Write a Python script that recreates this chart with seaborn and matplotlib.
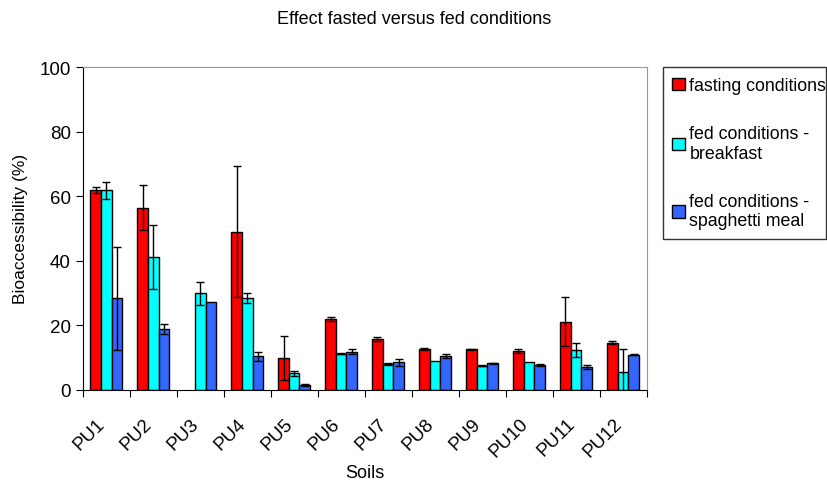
import numpy as np
import pandas as pd
import matplotlib
matplotlib.use('Agg')
import matplotlib.pyplot as plt
import matplotlib.transforms as mtransforms
import seaborn as sns
from matplotlib.patches import Patch

# ─────────────────────────────────────────────
# data
# ─────────────────────────────────────────────
soils = ['PU1', 'PU2', 'PU3', 'PU4', 'PU5', 'PU6',
         'PU7', 'PU8', 'PU9', 'PU10', 'PU11', 'PU12']
conditions = ['fasting conditions',
              'fed conditions -\nbreakfast',
              'fed conditions -\nspaghetti meal']

fasting     = [62.0, 56.4, np.nan, 49.0, 9.9, 21.9, 15.6, 12.5, 12.5, 12.0, 21.1, 14.6]
fasting_err = [1.0, 7.0, np.nan, 20.3, 6.8, 0.5, 0.6, 0.3, 0.2, 0.6, 7.5, 0.4]
breakfast     = [61.8, 41.1, 29.9, 28.5, 5.0, 11.1, 8.0, 8.8, 7.4, 8.6, 12.2, 5.3]
breakfast_err = [2.6, 10.0, 3.6, 1.6, 0.9, 0.2, 0.3, 0.0, 0.2, 0.0, 2.2, 7.4]
spaghetti     = [28.3, 18.8, 27.1, 10.3, 1.3, 11.7, 8.5, 10.5, 8.2, 7.7, 7.1, 10.8]
spaghetti_err = [15.9, 1.5, 0.0, 1.4, 0.3, 0.8, 1.1, 0.6, 0.2, 0.3, 0.6, 0.2]

colors = ['#FF0000', '#00FFFF', '#3366FF']

rows = []
for cond, vals, errs in zip(conditions,
                            [fasting, breakfast, spaghetti],
                            [fasting_err, breakfast_err, spaghetti_err]):
    for s, v, e in zip(soils, vals, errs):
        rows.append({'soil': s, 'condition': cond, 'value': v, 'err': e})
df = pd.DataFrame(rows)

plt.rcParams['font.family'] = ['Liberation Sans', 'DejaVu Sans']

fig = plt.figure(figsize=(8.28, 4.81), dpi=100)
ax = fig.add_axes([0.0999, 0.188, 0.681, 0.670])

sns.barplot(data=df, x='soil', y='value', hue='condition',
            order=soils, hue_order=conditions, palette=colors, saturation=1,
            width=0.68, gap=0, edgecolor='black', linewidth=1,
            errorbar=None, legend=False, ax=ax)

# error bars at each bar centre
for container, cond in zip(ax.containers, conditions):
    sub = df[df['condition'] == cond].set_index('soil')
    for bar in container:
        xc = bar.get_x() + bar.get_width() / 2
        h = bar.get_height()
        if np.isnan(h):
            continue
        soil = soils[int(round(xc))]
        e = sub.loc[soil, 'err']
        if e > 0:
            ax.errorbar(xc, h, yerr=e, fmt='none', ecolor='black',
                        elinewidth=1, capsize=3, capthick=1, zorder=5)

ax.set_ylim(0, 100)
ax.set_xlim(-0.5, len(soils) - 0.5)
ax.set_yticks(range(0, 101, 20))
ax.set_xticks(np.arange(-0.5, len(soils), 1.0))
ax.set_xticklabels([])
ax.set_xticks(np.arange(len(soils)), minor=True)
ax.set_xticklabels(soils, minor=True, rotation=45, ha='right',
                   rotation_mode='anchor', fontsize=13.5)
ax.tick_params(axis='x', which='minor', length=0, pad=18)
ax.tick_params(axis='x', which='major', length=5, direction='out')
ax.tick_params(axis='y', labelsize=13.5, length=5)

# nudge rotated labels left like the original
shift = mtransforms.ScaledTranslation(-10 / 100, 0, fig.dpi_scale_trans)
for lab in ax.get_xticklabels(minor=True):
    lab.set_transform(lab.get_transform() + shift)

for side in ['top', 'right']:
    ax.spines[side].set_color('#999999')
for side in ['left', 'bottom']:
    ax.spines[side].set_color('black')

ax.set_xlabel('Soils', fontsize=13, labelpad=3)
ax.set_ylabel('Bioaccessibility (%)', fontsize=12.5, labelpad=8)

fig.suptitle('Effect fasted versus fed conditions', fontsize=13, y=0.978)

handles = [Patch(facecolor=c, edgecolor='black', label=l)
           for c, l in zip(colors, conditions)]
x0 = 662.7 / 828
leg = fig.legend(handles=handles, loc='upper left', mode='expand',
                 bbox_to_anchor=(x0, 1 - 68.3 / 481, 1 - x0 - 0.002, 0.0),
                 frameon=True, fancybox=False, fontsize=12.8,
                 handlelength=0.7, handleheight=0.7, handletextpad=0.25,
                 labelspacing=1.75, borderpad=0.55, borderaxespad=0)
leg.get_frame().set_edgecolor('black')
leg.get_frame().set_linewidth(1)

fig.savefig('out.png', dpi=100)
